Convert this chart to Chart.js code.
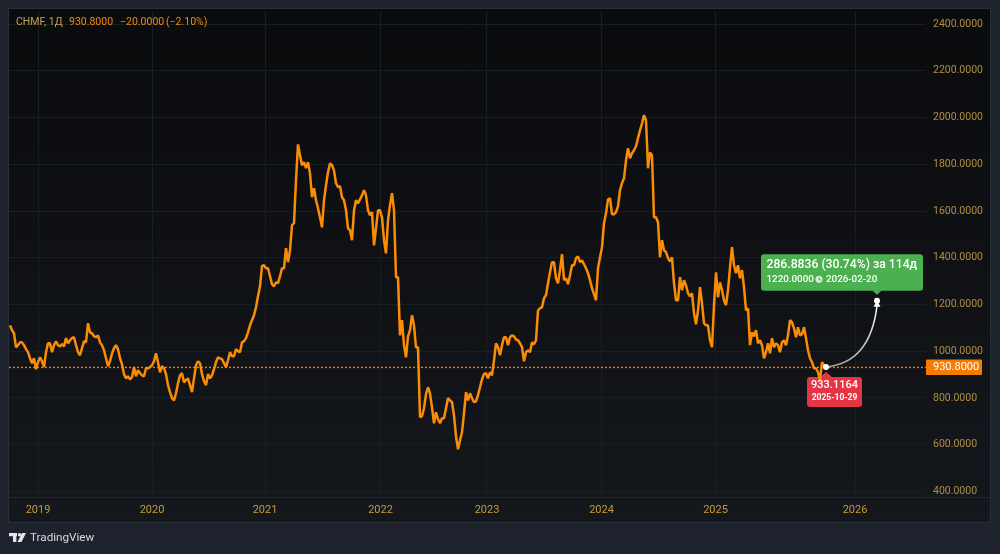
<!DOCTYPE html>
<html>
<head>
<meta charset="utf-8">
<title>CHMF</title>
<script src="https://cdn.jsdelivr.net/npm/chart.js@4"></script>
<style>
    html, body { margin: 0; padding: 0; background: #1e222d; }
    canvas { display: block; }
</style>
</head>
<body>
<canvas id="grafico" width="1000" height="554"></canvas>
<script>
// Weekly closes from late 2018 up to the last session
const closes = [
    1111,1090,1077,1017,1026,1038,1038,1026,1009,996,970,
    949,970,923,953,974,957,932,996,1034,1034,
    996,1026,1043,1026,1021,1030,1021,1056,1034,1047,
    1056,1060,1026,996,983,1013,1043,1038,1120,1081,
    1077,1064,1060,1068,1038,1026,1004,970,936,957,
    991,1013,1026,1009,970,944,902,884,893,
    880,889,932,893,919,906,897,893,927,927,
    932,940,957,991,953,910,936,927,902,855,
    825,799,790,820,863,897,906,867,876,884,
    855,825,884,940,957,949,902,872,855,902,
    884,897,923,953,974,970,966,949,932,961,
    996,979,979,1009,1000,996,1038,1043,1056,1081,
    1111,1133,1154,1188,1235,1278,1364,1368,1355,1355,
    1321,1287,1278,1295,1291,1321,1355,1355,1441,1381,
    1432,1539,1548,1732,1885,1838,1796,1809,1783,1809,
    1761,1659,1697,1646,1612,1573,1530,1646,1710,1766,
    1804,1796,1774,1719,1702,1706,1659,1646,1603,1526,
    1518,1475,1603,1646,1633,1650,1667,1689,1667,1603,
    1582,1595,1453,1526,1603,1603,1573,1475,1419,1560,
    1625,1676,1603,1317,1317,1068,1133,1026,974,1064,
    1090,1154,1111,1017,1017,718,722,756,816,846,
    820,760,692,739,709,692,713,713,756,799,
    790,782,726,636,581,619,653,735,825,790,
    820,799,782,786,812,846,880,902,906,884,
    910,897,961,1034,1017,983,1026,1060,1060,1026,
    1060,1068,1064,1051,1047,1034,1017,957,996,1004,
    996,1038,1030,1047,1175,1184,1188,1227,1240,1291,
    1338,1381,1381,1312,1291,1347,1415,1304,1312,1287,
    1325,1368,1368,1398,1406,1381,1389,1372,1355,1334,
    1304,1270,1244,1218,1355,1402,1445,1548,1590,1650,
    1654,1586,1586,1595,1620,1689,1719,1740,1817,1868,
    1826,1847,1860,1877,1911,1945,1975,2010,1988,1783,
    1851,1838,1573,1573,1552,1402,1475,1432,1424,1398,
    1385,1402,1291,1218,1218,1317,1261,1304,1282,1248,
    1235,1248,1163,1115,1175,1274,1205,1120,1111,1111,
    1047,1017,1197,1338,1231,1295,1261,1218,1197,1261,
    1359,1445,1368,1334,1368,1312,1347,1274,1175,1184,
    1026,1081,1064,1090,1034,1047,1026,970,996,1034,
    991,1056,1017,1034,1026,996,1038,1047,1026,1068,
    1133,1124,1098,1060,1103,1068,1073,1103,1056,1004,
    970,953,927,927,910,876,953,940,930.8
];

const yearLabels = ["2019", "2020", "2021", "2022", "2023", "2024", "2025", "2026"];
const yearPositions = [14, 71, 127.5, 185.25, 238.5, 295.75, 352.75, 422.5];
const priceTicks = [400, 600, 800, 1000, 1200, 1400, 1600, 1800, 2000, 2200, 2400];

const lastClose = 930.8;
const forecastFrom = { pos: 408, price: 933.1164, date: "2025-10-29" };
const forecastTo = { pos: 433.5, price: 1220, date: "2026-02-20" };
const forecastText = "286.8836 (30.74%) за 114д";

const LARANJA = "#fb8c05";
const FONTE = "Roboto, sans-serif";

function caixa(ctx, x, y, w, h, r, cor) {
    ctx.fillStyle = cor;
    ctx.beginPath();
    ctx.roundRect(x, y, w, h, r);
    ctx.fill();
}

function triangulo(ctx, x1, y1, x2, y2, x3, y3, cor) {
    ctx.fillStyle = cor;
    ctx.beginPath();
    ctx.moveTo(x1, y1);
    ctx.lineTo(x2, y2);
    ctx.lineTo(x3, y3);
    ctx.closePath();
    ctx.fill();
}

// Panel background, frame and axis separator
const fundo = {
    id: "fundo",
    beforeDraw(chart) {
        const ctx = chart.ctx;
        ctx.save();
        ctx.fillStyle = "#1e222d";
        ctx.fillRect(0, 0, 1000, 554);
        const grad = ctx.createLinearGradient(0, 9, 0, 522);
        grad.addColorStop(0, "#0a0b0d");
        grad.addColorStop(1, "#14171c");
        ctx.fillStyle = grad;
        ctx.fillRect(9, 9, 982, 513);
        ctx.strokeStyle = "#2a2e39";
        ctx.lineWidth = 1;
        ctx.strokeRect(8.5, 8.5, 982, 514);
        ctx.strokeStyle = "#24272d";
        ctx.beginPath();
        ctx.moveTo(9, 497.5);
        ctx.lineTo(990, 497.5);
        ctx.stroke();
        ctx.restore();
    },
    beforeDatasetsDraw(chart) {
        // the red label sits under the line
        const ctx = chart.ctx;
        const px = chart.scales.x.getPixelForValue(forecastFrom.pos);
        const py = chart.scales.y.getPixelForValue(forecastFrom.price);
        ctx.save();
        caixa(ctx, px - 19, py + 10, 55, 30, 3, "#e53545");
        triangulo(ctx, px - 6, py + 10, px, py + 5, px + 6, py + 10, "#e53545");
        ctx.restore();
    }
};

// Texts and the forecast drawing on top of the series
const anotacoes = {
    id: "anotacoes",
    afterDraw(chart) {
        const ctx = chart.ctx;
        const escX = chart.scales.x;
        const escY = chart.scales.y;
        const x0 = escX.getPixelForValue(forecastFrom.pos);
        const y0 = escY.getPixelForValue(forecastFrom.price);
        const x1 = escX.getPixelForValue(forecastTo.pos);
        const y1 = escY.getPixelForValue(forecastTo.price);
        const yLast = escY.getPixelForValue(lastClose);

        ctx.save();
        ctx.textBaseline = "middle";

        // header
        ctx.textAlign = "left";
        ctx.font = "10.5px " + FONTE;
        ctx.fillStyle = "#c8a050";
        ctx.fillText("CHMF, 1Д", 16, 22);
        ctx.fillStyle = "#f08a10";
        ctx.fillText("930.8000", 69, 22);
        ctx.fillText("−20.0000", 120, 22);
        ctx.fillText("(−2.10%)", 166, 22);

        // last price badge
        caixa(ctx, 926, yLast - 8, 56, 15.5, 1, "#f57c00");
        ctx.font = "11px " + FONTE;
        ctx.fillStyle = "#ffffff";
        ctx.fillText(lastClose.toFixed(4), 933, yLast);

        // forecast curve
        const grad = ctx.createLinearGradient(x0, y0, x1, y1);
        grad.addColorStop(0, "#9a9a9a");
        grad.addColorStop(1, "#ffffff");
        ctx.strokeStyle = grad;
        ctx.lineWidth = 1.5;
        ctx.beginPath();
        ctx.moveTo(x0, y0);
        ctx.quadraticCurveTo(x1 - 7, y0 - 4, x1, y1 + 6);
        ctx.stroke();
        triangulo(ctx, x1, y1 + 1, x1 + 3.5, y1 + 7, x1 - 3.5, y1 + 7, "#ffffff");

        [[x0, y0], [x1, y1 + 1]].forEach(p => {
            ctx.fillStyle = "#ffffff";
            ctx.beginPath();
            ctx.arc(p[0], p[1], 3, 0, Math.PI * 2);
            ctx.fill();
        });

        // green label
        caixa(ctx, x1 - 116, y1 - 45.5, 162, 36.5, 3, "#4caf50");
        triangulo(ctx, x1 - 5, y1 - 9.5, x1, y1 - 5, x1 + 5, y1 - 9.5, "#4caf50");
        ctx.fillStyle = "#ffffff";
        ctx.font = "500 12.2px " + FONTE;
        ctx.fillText(forecastText, x1 - 110.5, y1 - 34.5);
        ctx.font = "500 9.8px " + FONTE;
        ctx.fillText(forecastTo.price.toFixed(4), x1 - 110.5, y1 - 20.5);
        ctx.fillText(forecastTo.date, x1 - 51, y1 - 20.5);
        ctx.fillStyle = "#d9eeda";
        ctx.beginPath();
        ctx.arc(x1 - 58, y1 - 20.5, 3.5, 0, Math.PI * 2);
        ctx.fill();
        ctx.strokeStyle = "#4caf50";
        ctx.lineWidth = 1;
        ctx.beginPath();
        ctx.moveTo(x1 - 58, y1 - 23);
        ctx.lineTo(x1 - 58, y1 - 20.5);
        ctx.lineTo(x1 - 56, y1 - 19.5);
        ctx.stroke();

        // red label text
        ctx.textAlign = "center";
        ctx.fillStyle = "#ffffff";
        ctx.font = "500 11px " + FONTE;
        ctx.fillText(forecastFrom.price.toFixed(4), x0 + 8.5, y0 + 18.5);
        ctx.font = "bold 8.5px " + FONTE;
        ctx.fillText(forecastFrom.date, x0 + 8.5, y0 + 31);

        // footer logo and name
        ctx.fillStyle = "#e4e6ea";
        ctx.fillRect(9, 533, 8, 3.2);
        ctx.fillRect(13, 533, 3.4, 9);
        ctx.beginPath();
        ctx.arc(19.5, 534.8, 1.7, 0, Math.PI * 2);
        ctx.fill();
        ctx.beginPath();
        ctx.moveTo(22, 533);
        ctx.lineTo(26, 533);
        ctx.lineTo(21.5, 542);
        ctx.lineTo(17.5, 542);
        ctx.closePath();
        ctx.fill();
        ctx.textAlign = "left";
        ctx.font = "11.7px " + FONTE;
        ctx.fillStyle = "#d6d8dd";
        ctx.fillText("TradingView", 30, 538);

        ctx.restore();
    }
};

new Chart(document.getElementById("grafico").getContext("2d"), {
    type: "line",
    data: {
        datasets: [
            {
                label: "CHMF",
                data: closes.map((c, i) => ({ x: i, y: c })),
                borderColor: LARANJA,
                borderWidth: 2.5,
                pointRadius: 0,
                tension: 0,
                borderJoinStyle: "bevel",
                order: 1
            },
            {
                label: "Last",
                data: [{ x: -0.5, y: lastClose }, { x: 458, y: lastClose }],
                borderColor: "#f57c00",
                borderWidth: 1.4,
                borderDash: [2, 2],
                pointRadius: 0,
                order: 2
            }
        ]
    },
    options: {
        responsive: false,
        animation: false,
        devicePixelRatio: 1,
        layout: { padding: { left: 9, top: 10.5, right: 0, bottom: 0 } },
        plugins: { legend: { display: false }, tooltip: { enabled: false } },
        scales: {
            x: {
                type: "linear",
                min: -0.5,
                max: 458,
                afterFit(scale) { scale.height = 56.5; },
                afterBuildTicks(scale) { scale.ticks = yearPositions.map(v => ({ value: v })); },
                border: { display: false },
                grid: { color: "#1a1d22", drawTicks: false },
                ticks: {
                    padding: 6,
                    autoSkip: false,
                    maxRotation: 0,
                    color: "#c99a35",
                    font: { family: "Roboto", size: 11 },
                    callback: v => yearLabels[yearPositions.indexOf(v)]
                }
            },
            y: {
                position: "right",
                min: 374.3,
                max: 2457.8,
                afterFit(scale) {
                    scale.width = 74;
                    scale.paddingTop = 0;
                    scale.paddingBottom = 0;
                },
                afterBuildTicks(scale) { scale.ticks = priceTicks.map(v => ({ value: v })); },
                border: { display: false },
                grid: { color: "#1a1d22", drawTicks: false },
                ticks: {
                    padding: 7,
                    color: "#b08f42",
                    font: { family: "Roboto", size: 10.5 },
                    callback: v => v.toFixed(4)
                }
            }
        }
    },
    plugins: [fundo, anotacoes]
});
</script>
</body>
</html>
